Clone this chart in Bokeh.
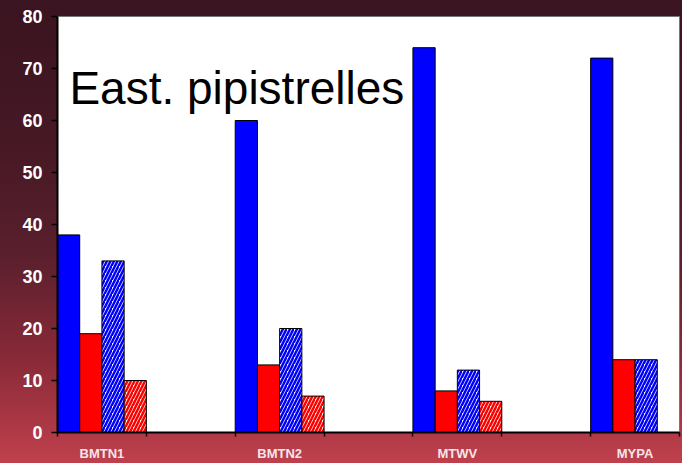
from bokeh.plotting import figure
from bokeh.models import ColumnDataSource, FixedTicker, Label, LinearAxis, Range1d
from bokeh.embed import file_html
from bokeh.resources import INLINE

# ---- data ----
sites = ["BMTN1", "BMTN2", "MTWV", "MYPA"]
blue_solid = [38, 60, 74, 72]
red_solid = [19, 13, 8, 14]
blue_hatched = [33, 20, 12, 14]
red_hatched = [10, 7, 6, None]
y_ticks = [0, 10, 20, 30, 40, 50, 60, 70, 80]
title_text = "East. pipistrelles"

n = len(sites)
bw = 0.125
series = [
    (blue_solid, dict(fill_color="#0000ff")),
    (red_solid, dict(fill_color="#ff0000")),
    (blue_hatched, dict(fill_color="white", hatch_pattern="right_diagonal_line", hatch_color="#0000ff",
                        hatch_weight=2.5, hatch_scale=7)),
    (red_hatched, dict(fill_color="white", hatch_pattern="right_diagonal_line", hatch_color="#ff0000",
                       hatch_weight=2.5, hatch_scale=7)),
]

p = figure(width=682, height=463, output_backend="svg", toolbar_location=None,
           x_range=Range1d(0, n - 0.5), y_range=Range1d(0, 80),
           min_border_left=57, min_border_right=3, min_border_top=16, min_border_bottom=24,
           x_axis_location=None, y_axis_location=None)
p.border_fill_color = None
p.background_fill_color = "white"
p.outline_line_color = "#777777"
p.outline_line_width = 1
p.styles = {"background": "linear-gradient(180deg, #3a1420 0%, #451824 30%, #5a1f2d 55%, #8a2a38 78%, #c0404d 100%)"}
p.xgrid.visible = False
p.ygrid.visible = False

for k, (vals, style) in enumerate(series):
    xs = [i + bw * (k + 0.5) for i in range(n) if vals[i] is not None]
    ys = [v for v in vals if v is not None]
    src = ColumnDataSource(dict(x=xs, top=ys))
    p.vbar(x="x", top="top", bottom=0, width=bw, source=src,
           line_color="black", line_width=1, **style)

# y axis
yax = LinearAxis(ticker=FixedTicker(ticks=y_ticks, minor_ticks=[]))
yax.axis_line_color = "black"
yax.axis_line_width = 2
yax.major_tick_line_color = "black"
yax.major_tick_line_width = 1.5
yax.major_tick_out = 6
yax.major_tick_in = 0
yax.minor_tick_line_color = None
yax.major_label_standoff = 9
yax.major_label_text_color = "white"
yax.major_label_text_font = "Liberation Sans"
yax.major_label_text_font_style = "bold"
yax.major_label_text_font_size = "18px"
p.add_layout(yax, "left")

# x axis: labels at group centres, tick marks at group edges
centres = [i + 0.25 for i in range(n)]
edges = sorted(set([i for i in range(n)] + [i + 0.5 for i in range(n)]))
xax = LinearAxis(ticker=FixedTicker(ticks=centres, minor_ticks=edges))
xax.major_label_overrides = {c: s for c, s in zip(centres, sites)}
xax.axis_line_color = "black"
xax.axis_line_width = 2
xax.major_tick_line_color = None
xax.major_tick_out = 0
xax.major_tick_in = 0
xax.minor_tick_line_color = "black"
xax.minor_tick_line_width = 1.5
xax.minor_tick_out = 4
xax.minor_tick_in = 0
xax.major_label_standoff = 9
xax.major_label_text_color = "#f4e6e8"
xax.major_label_text_font = "Liberation Sans"
xax.major_label_text_font_style = "bold"
xax.major_label_text_font_size = "13px"
p.add_layout(xax, "below")

p.add_layout(Label(x=0.067, y=66.2, text=title_text, text_font="Liberation Sans",
                   text_font_size="46px", text_color="black", text_baseline="alphabetic"))

open("out.html", "w").write(file_html(p, INLINE))
